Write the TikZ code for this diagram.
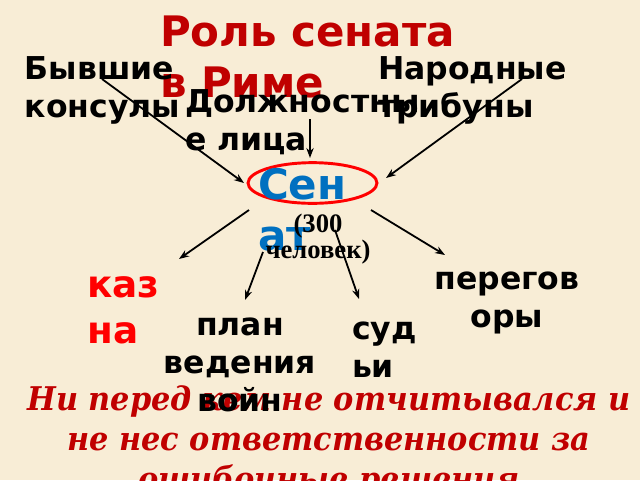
\documentclass[tikz,border=0pt]{standalone}
\usepackage{fontspec}
\setmainfont{DejaVu Sans}
\newfontfamily\dvserif[FakeStretch=0.93]{DejaVu Serif}
\newfontfamily\timesf{Liberation Serif}
\usetikzlibrary{arrows.meta,shapes.geometric}
\definecolor{bgcol}{HTML}{F8EDD6}
\definecolor{darkred}{HTML}{C00000}
\definecolor{brightred}{HTML}{FF0000}
\definecolor{senblue}{HTML}{0070C0}
\tikzset{
  txt/.style={inner sep=0pt, outer sep=0pt, font=\bfseries\fontsize{23.6pt}{28.5pt}\selectfont, text=black},
  bigtxt/.style={inner sep=0pt, outer sep=0pt, font=\bfseries\fontsize{31.5pt}{38pt}\selectfont},
  conn/.style={draw=black, line width=1.35pt, -{Stealth[length=7.5pt,width=5.5pt]}},
}
\begin{document}
\begin{tikzpicture}[x=0.75pt,y=-0.75pt]
\useasboundingbox (0,0) rectangle (640,480);
\fill[bgcol] (0,0) rectangle (640,480);
% title
\node[bigtxt, text=darkred, anchor=base west, align=left] (title) at (160,97) {Роль сената\\в Риме};
% bottom statement
\node[inner sep=0pt, anchor=base, align=center, text=darkred,
  font=\dvserif\bfseries\itshape\fontsize{24.5pt}{30pt}\selectfont] (concl) at (329,490)
  {Ни перед кем не отчитывался и\\не нес ответственности за\\ошибочные решения};
% sources
\node[txt, anchor=base west, align=left] (consuls) at (25,117) {Бывшие\\консулы};
\node[txt, anchor=base west, align=left] (officials) at (185,150) {Должностны\\е лица};
\node[txt, anchor=base west, align=left] (tribunes) at (378,117) {Народные\\трибуны};
% senate
\node[draw=brightred, line width=2.2pt, ellipse, minimum width=96.75pt, minimum height=30.5pt, inner sep=0pt] (ell) at (312.5,183) {};
\node[bigtxt, text=senblue, anchor=base west, align=left] (senat) at (258,250) {Сен\\ат};
\node[inner sep=0pt, anchor=base, align=center, font=\timesf\bfseries\fontsize{20pt}{17.5pt}\selectfont] (count) at (318,258) {(300\\человек)};
% functions
\node[inner sep=0pt, anchor=base west, align=left, text=brightred, font=\bfseries\fontsize{28pt}{34pt}\selectfont] (kazna) at (87,343) {каз\\на};
\node[txt, anchor=base, align=center] (war) at (240,411) {план\\ведения\\войн};
\node[txt, anchor=base west, align=left] (judges) at (352,377) {суд\\ьи};
\node[txt, anchor=base, align=center] (talks) at (507,327) {перегов\\оры};
% connector ends
\coordinate (c1s) at (102,79);  \coordinate (c1e) at (244,183);
\coordinate (c2s) at (310,119); \coordinate (c2e) at (310,158);
\coordinate (c3s) at (522,79);  \coordinate (c3e) at (386,178);
\coordinate (c4s) at (249,210); \coordinate (c4e) at (179,259);
\coordinate (c5s) at (263,252); \coordinate (c5e) at (245,300);
\coordinate (c6s) at (335,230); \coordinate (c6e) at (359,299);
\coordinate (c7s) at (371,210); \coordinate (c7e) at (445,255);
\draw[conn] (c1s) -- (c1e);
\draw[conn] (c2s) -- (c2e);
\draw[conn] (c3s) -- (c3e);
\draw[conn] (c4s) -- (c4e);
\draw[conn] (c5s) -- (c5e);
\draw[conn] (c6s) -- (c6e);
\draw[conn] (c7s) -- (c7e);
\end{tikzpicture}
\end{document}
